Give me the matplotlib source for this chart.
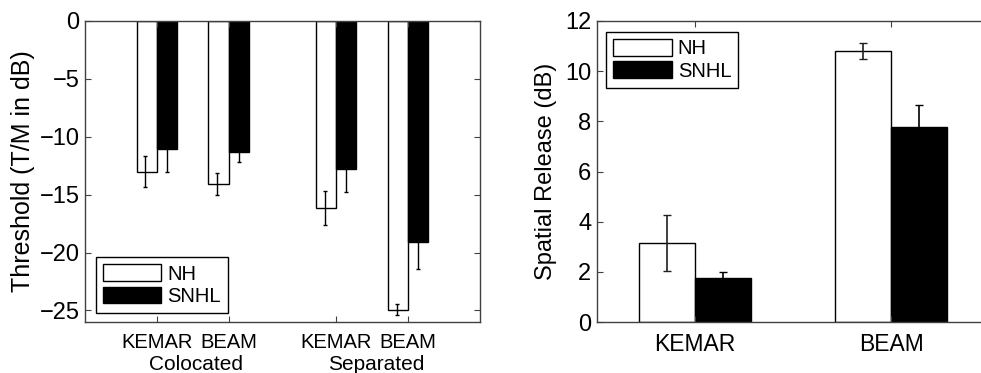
import matplotlib

matplotlib.use('Agg')
import numpy as np
import matplotlib.pyplot as plt
import matplotlib.transforms as mtransforms

# Threshold data (left panel), order: KEMAR colocated, BEAM colocated, KEMAR separated, BEAM separated
thr_groups = ['KEMAR', 'BEAM', 'KEMAR', 'BEAM']
thr_conditions = ['Colocated', 'Separated']
thr_nh = [-13.0, -14.1, -16.15, -24.95]
thr_nh_err = [1.3, 0.95, 1.45, 0.47]
thr_snhl = [-11.05, -11.3, -12.75, -19.1]
thr_snhl_err = [1.95, 0.87, 2.0, 2.3]

# Spatial release data (right panel)
rel_groups = ['KEMAR', 'BEAM']
rel_nh = [3.15, 10.8]
rel_nh_err = [1.1, 0.31]
rel_snhl = [1.77, 7.78]
rel_snhl_err = [0.23, 0.89]

plt.rcParams.update({
    'font.family': ['Liberation Sans', 'DejaVu Sans'],
    'font.size': 17,
    'axes.linewidth': 1.0,
    'axes.edgecolor': '#404040',
    'xtick.direction': 'in',
    'ytick.direction': 'in',
    'xtick.color': '#404040',
    'ytick.color': '#404040',
    'xtick.labelcolor': 'black',
    'ytick.labelcolor': 'black',
})

fig = plt.figure(figsize=(9.81, 3.73), dpi=100)
bw = 0.28
leg_kw = dict(handlelength=2.9, handleheight=0.9, fontsize=14.5, fancybox=False,
              edgecolor='black', framealpha=1, borderpad=0.35, labelspacing=0.15,
              handletextpad=0.3, borderaxespad=0)

# ---- left panel ----
ax1 = fig.add_axes([0.0866, 0.1367, 0.4027, 0.807])
pos = np.array([1, 2, 3.5, 4.5])
ax1.bar(pos - bw / 2, thr_nh, bw, color='white', edgecolor='black', linewidth=1, label='NH')
ax1.bar(pos + bw / 2, thr_snhl, bw, color='black', edgecolor='black', linewidth=1, label='SNHL')
ax1.errorbar(pos - bw / 2 - 0.02, thr_nh, yerr=thr_nh_err, fmt='none', ecolor='black',
             elinewidth=1, capsize=1.5)
ax1.errorbar(pos + bw / 2, thr_snhl, yerr=thr_snhl_err, fmt='none', ecolor='black',
             elinewidth=1, capsize=1.5)
ax1.set_xlim(0, 5.5)
ax1.set_ylim(-26, 0)
ax1.set_yticks([0, -5, -10, -15, -20, -25])
ax1.set_yticklabels(['0', '\u22125', '\u221210', '\u221215', '\u221220', '\u221225'])
ax1.set_xticks(pos)
ax1.set_xticklabels(thr_groups, fontsize=14.5)
ax1.set_ylabel('Threshold (T/M in dB)', labelpad=3, fontsize=18)
ax1.tick_params(axis='both', length=4, pad=4, top=True, right=True)
ax1.tick_params(axis='x', pad=8)
trans = mtransforms.blended_transform_factory(ax1.transData, ax1.transAxes)
for cx, cond in zip([1.55, 4.05], thr_conditions):
    ax1.text(cx, -0.158, cond, transform=trans, ha='center', va='baseline', fontsize=15)
leg1 = ax1.legend(loc='lower left', bbox_to_anchor=(0.028, 0.03), **leg_kw)
leg1.get_frame().set_linewidth(1)

# ---- right panel ----
ax2 = fig.add_axes([0.6083, 0.1367, 0.4003, 0.807])
pos2 = np.array([1, 2])
bw2 = 0.285
ax2.bar(pos2 - bw2 / 2, rel_nh, bw2, color='white', edgecolor='black', linewidth=1, label='NH')
ax2.bar(pos2 + bw2 / 2, rel_snhl, bw2, color='black', edgecolor='black', linewidth=1, label='SNHL')
ax2.errorbar(pos2 - bw2 / 2, rel_nh, yerr=rel_nh_err, fmt='none', ecolor='#202020',
             elinewidth=1.2, capsize=3)
ax2.errorbar(pos2 + bw2 / 2, rel_snhl, yerr=rel_snhl_err, fmt='none', ecolor='black',
             elinewidth=1.2, capsize=3)
ax2.set_xlim(0.5, 2.5)
ax2.set_ylim(0, 12)
ax2.set_yticks([0, 2, 4, 6, 8, 10, 12])
ax2.set_xticks(pos2)
ax2.set_xticklabels(rel_groups, fontsize=16.5)
ax2.set_ylabel('Spatial Release (dB)', labelpad=6)
ax2.tick_params(axis='both', length=4, pad=4, top=True, right=True)
ax2.tick_params(axis='x', pad=8)
leg2 = ax2.legend(loc='upper left', bbox_to_anchor=(0.024, 0.964), **leg_kw)
leg2.get_frame().set_linewidth(1)

fig.savefig('out.png', dpi=100)
